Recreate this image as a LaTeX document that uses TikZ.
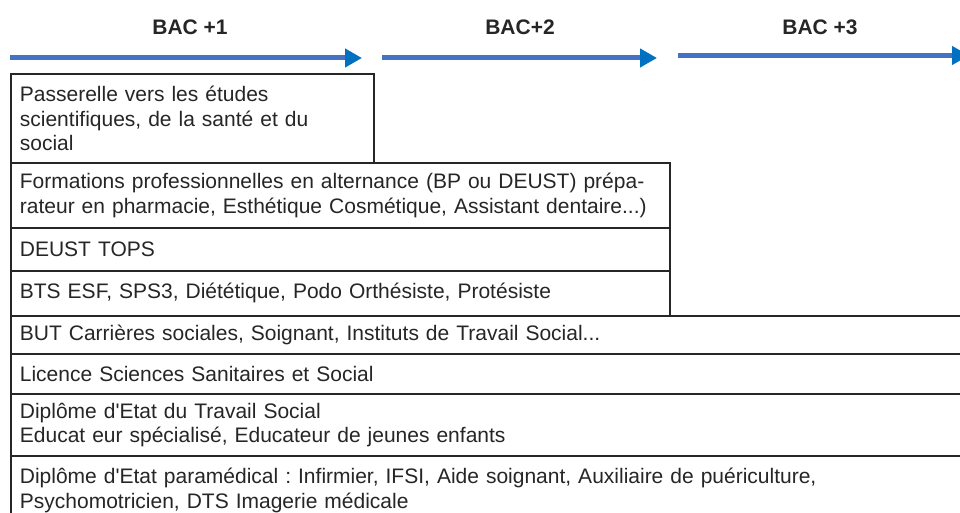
\documentclass[tikz,border=0pt]{standalone}
\usepackage{fontspec}
\setmainfont{Liberation Sans}
\usetikzlibrary{arrows.meta}
\definecolor{arrowline}{HTML}{4472C4}
\definecolor{arrowhead}{HTML}{0070C0}
\definecolor{border}{HTML}{262626}
\definecolor{ink}{HTML}{262626}
\newcommand{\bodyfont}{\fontsize{21}{24.5}\selectfont\frenchspacing}
\newcommand{\titlefont}{\fontsize{21}{25}\selectfont\bfseries}
\tikzset{
  box/.style={draw=border, line width=1.8pt, anchor=north west, inner xsep=9pt, inner ysep=0pt,
    align=left, text=ink, font=\bodyfont},
  title/.style={font=\titlefont, text=ink},
  timeline/.style={draw=arrowline, line width=5pt,
    -{Triangle[length=17pt, width=18pt, color=arrowhead]}}
}
\begin{document}
\begin{tikzpicture}[x=1pt, y=-1pt]
\useasboundingbox (0,0) rectangle (960,513);
\fill[white] (0,0) rectangle (960,513);
\begin{scope}
\clip (0,0) rectangle (960,513);
% titles
\node[title] (t1) at (190,27) {BAC +1};
\node[title] (t2) at (520,27) {BAC+2};
\node[title] (t3) at (820,27) {BAC +3};
% timeline arrows
\coordinate (a1s) at (10,58);  \coordinate (a1e) at (362,58);
\coordinate (a2s) at (382,58); \coordinate (a2e) at (657,58);
\coordinate (a3s) at (678,55.5); \coordinate (a3e) at (969,55.5);
\draw[timeline] (a1s) -- (a1e);
\draw[timeline] (a2s) -- (a2e);
\draw[timeline] (a3s) -- (a3e);
% boxes
\node[box, text width=345pt, minimum height=89pt] (b1) at (10,73)
  {Passerelle vers les études\\scientifiques, de la santé et du\\social};
\node[box, text width=641pt, minimum height=65pt] (b2) at (10,162)
  {Formations professionnelles en alternance (BP ou DEUST) prépa-\\rateur en pharmacie, Esthétique Cosmétique, Assistant dentaire...)};
\node[box, text width=641pt, minimum height=43pt] (b3) at (10,227)
  {DEUST TOPS};
\node[box, text width=641pt, minimum height=45pt] (b4) at (10,270)
  {BTS ESF, SPS3, Diététique, Podo Orthésiste, Protésiste};
\node[box, text width=952pt, minimum height=38pt] (b5) at (10,315)
  {BUT Carrières sociales, Soignant, Instituts de Travail Social...};
\node[box, text width=952pt, minimum height=40pt] (b6) at (10,353)
  {Licence Sciences Sanitaires et Social};
\node[box, text width=952pt, minimum height=62pt] (b7) at (10,393)
  {Diplôme d\textquotesingle Etat du Travail Social\\Educat eur spécialisé, Educateur de jeunes enfants};
\node[box, text width=952pt, minimum height=69pt] (b8) at (10,455)
  {Diplôme d\textquotesingle Etat paramédical : Infirmier, IFSI, Aide soignant, Auxiliaire de puériculture,\\Psychomotricien, DTS Imagerie médicale};
\end{scope}
\end{tikzpicture}
\end{document}
